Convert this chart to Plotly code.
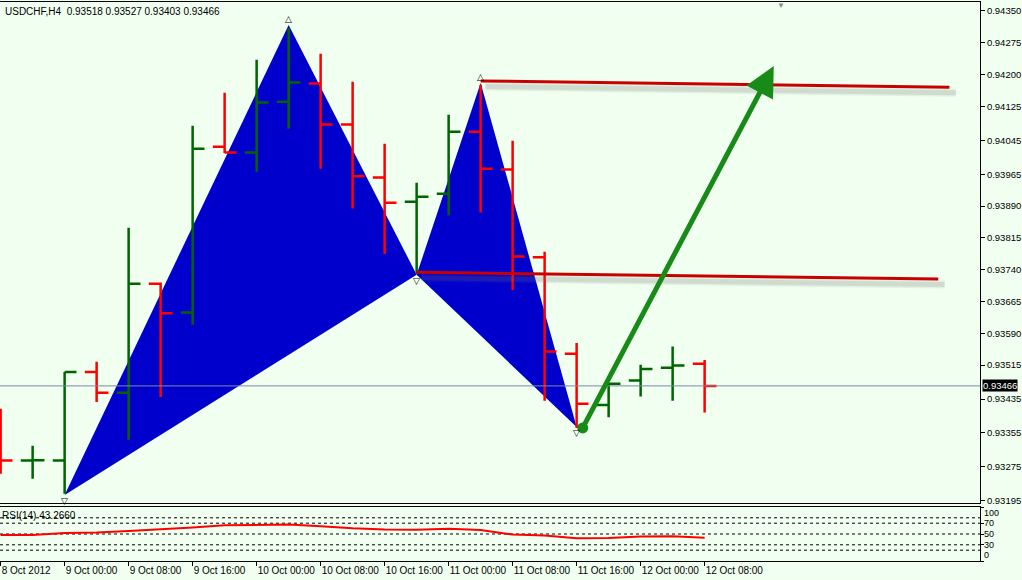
import plotly.graph_objects as go

symbol = "USDCHF,H4"
times = ["8 Oct 16:00", "8 Oct 20:00", "9 Oct 00:00", "9 Oct 04:00", "9 Oct 08:00",
         "9 Oct 12:00", "9 Oct 16:00", "9 Oct 20:00", "10 Oct 00:00", "10 Oct 04:00",
         "10 Oct 08:00", "10 Oct 12:00", "10 Oct 16:00", "10 Oct 20:00", "11 Oct 00:00",
         "11 Oct 04:00", "11 Oct 08:00", "11 Oct 12:00", "11 Oct 16:00", "11 Oct 20:00",
         "12 Oct 00:00", "12 Oct 04:00", "12 Oct 08:00"]
opens = [0.93339, 0.93290, 0.93290, 0.93499, 0.93450, 0.93707, 0.93639, 0.94030, 0.94016,
         0.94136, 0.94179, 0.94082, 0.93957, 0.93900, 0.93919, 0.94065, 0.93976, 0.93769,
         0.93542, 0.93421, 0.93479, 0.93509, 0.93518]
highs = [0.93412, 0.93325, 0.93499, 0.93523, 0.93839, 0.93710, 0.94079, 0.94157, 0.94235,
         0.94310, 0.94249, 0.94183, 0.94037, 0.93945, 0.94105, 0.94176, 0.94044, 0.93782,
         0.93567, 0.93472, 0.93516, 0.93559, 0.93527]
lows = [0.93259, 0.93247, 0.93212, 0.93428, 0.93339, 0.93440, 0.93610, 0.94015, 0.93971,
        0.94072, 0.93978, 0.93884, 0.93777, 0.93730, 0.93868, 0.93875, 0.93692, 0.93431,
        0.93367, 0.93392, 0.93441, 0.93431, 0.93403]
closes = [0.93290, 0.93291, 0.93499, 0.93450, 0.93707, 0.93637, 0.94025, 0.94016, 0.94134,
          0.94181, 0.94082, 0.93960, 0.93898, 0.93912, 0.94065, 0.93978, 0.93771, 0.93547,
          0.93424, 0.93471, 0.93506, 0.93514, 0.93466]
rsi = [48.2, 48.0, 52.0, 52.6, 55.5, 58.2, 62.0, 66.0, 66.5, 67.5, 64.5, 60.5, 58.2, 58.0,
       59.5, 57.5, 49.0, 47.0, 42.0, 42.5, 45.5, 45.8, 43.266]
rsi_levels = [80, 70, 50, 30, 20]

# XABCD pattern (bar index, price)
pat_idx = [2, 9, 13, 15, 18]
pat_price = [0.93209, 0.94317, 0.93728, 0.94180, 0.93369]

# trend lines (bar index, price)
line1_x = [15, 29.65]
line1_y = [0.94185, 0.94170]
line2_x = [13, 29.3]
line2_y = [0.93734, 0.93718]

# arrow (tail -> tip)
arrow_x = [18.19, 24.16]
arrow_y = [0.93367, 0.94220]

price_ticks = [0.94350, 0.94275, 0.94200, 0.94125, 0.94045, 0.93965, 0.93890, 0.93815,
               0.93740, 0.93665, 0.93590, 0.93515, 0.93435, 0.93355, 0.93275, 0.93195]
time_tick_idx = [0, 2, 4, 6, 8, 10, 12, 14, 16, 18, 20, 22]
time_tick_text = ["8 Oct 2012", "9 Oct 00:00", "9 Oct 08:00", "9 Oct 16:00", "10 Oct 00:00",
                  "10 Oct 08:00", "10 Oct 16:00", "11 Oct 00:00", "11 Oct 08:00",
                  "11 Oct 16:00", "12 Oct 00:00", "12 Oct 08:00"]
rsi_ticks = [100, 70, 50, 30, 0]

BG = "#f0fff0"
idx = list(range(len(times)))

fig = go.Figure()

# soft shadows of the trend lines
for lx, ly in ((line1_x, line1_y), (line2_x, line2_y)):
    for w, a in ((8, 0.10), (5, 0.16)):
        fig.add_trace(go.Scatter(
            x=[lx[0] + 0.15, lx[1] + 0.2], y=[ly[0] - 0.00013, ly[1] - 0.00013],
            mode="lines", line=dict(color=f"rgba(110,110,110,{a})", width=w),
            hoverinfo="skip", showlegend=False, xaxis="x", yaxis="y"))

# OHLC bars
fig.add_trace(go.Ohlc(
    x=idx, open=opens, high=highs, low=lows, close=closes,
    increasing=dict(line=dict(color="#006400", width=2.5)),
    decreasing=dict(line=dict(color="#ff0000", width=2.5)),
    tickwidth=0.37, showlegend=False, hoverinfo="skip",
    xaxis="x", yaxis="y"))

# trend lines
for lx, ly in ((line1_x, line1_y), (line2_x, line2_y)):
    fig.add_trace(go.Scatter(
        x=lx, y=ly, mode="lines", line=dict(color="#c80000", width=3),
        hoverinfo="skip", showlegend=False, xaxis="x", yaxis="y"))

# arrow start dot
fig.add_trace(go.Scatter(
    x=[arrow_x[0]], y=[arrow_y[0]], mode="markers",
    marker=dict(color="#178a17", size=11), hoverinfo="skip", showlegend=False,
    xaxis="x", yaxis="y"))

# RSI
fig.add_trace(go.Scatter(
    x=idx, y=rsi, mode="lines", line=dict(color="#ff0000", width=2),
    hoverinfo="skip", showlegend=False, xaxis="x2", yaxis="y2"))

shapes = []
# pattern triangles XAB and BCD, behind the bars
for tri in ([0, 1, 2], [2, 3, 4]):
    pts = [(pat_idx[i], pat_price[i]) for i in tri]
    path = "M " + " L ".join(f"{px},{pp}" for px, pp in pts) + " Z"
    shapes.append(dict(type="path", xref="x", yref="y", path=path,
                       fillcolor="#0000cd", line=dict(width=0), layer="below"))
for lv in rsi_levels:
    shapes.append(dict(type="line", xref="x2 domain", yref="y2", x0=0, x1=1, y0=lv, y1=lv,
                       line=dict(color="black", width=1, dash="3px,3px"), layer="below"))
# current price line
shapes.append(dict(type="line", xref="x domain", yref="y", x0=0, x1=1,
                   y0=closes[-1], y1=closes[-1],
                   line=dict(color="#7a8aa6", width=1), layer="above"))

annotations = [
    dict(xref="x domain", yref="y domain", x=0.003, y=0.997, xanchor="left", yanchor="top",
         showarrow=False,
         text=f"{symbol}  {opens[-1]:.5f} {highs[-1]:.5f} {lows[-1]:.5f} {closes[-1]:.5f}",
         font=dict(size=10, color="black")),
    dict(xref="x2 domain", yref="y2 domain", x=0.0, y=0.98, xanchor="left", yanchor="top",
         showarrow=False, text=f"RSI(14) {rsi[-1]:.4f}", font=dict(size=10, color="black")),
    dict(xref="x domain", yref="y", x=1, y=closes[-1], xanchor="left", yanchor="middle",
         xshift=2, showarrow=False, text=f"{closes[-1]:.5f}", bgcolor="black",
         font=dict(size=9.5, color="white"), borderpad=0),
    dict(xref="x", yref="y", x=arrow_x[1], y=arrow_y[1], ax=arrow_x[0], ay=arrow_y[0],
         axref="x", ayref="y", showarrow=True, arrowhead=2, arrowsize=1.2, arrowwidth=5,
         arrowcolor="#178a17", standoff=0, startstandoff=0, text=""),
    dict(xref="x domain", yref="y domain", x=0.797, y=1.0, xanchor="center", yanchor="top",
         yshift=3, showarrow=False, text="▼", font=dict(size=8, color="#8c8c8c")),
]
# RSI scale labels, kept inside the small panel like the terminal does
for lv in rsi_ticks:
    anchor = "top" if lv == max(rsi_ticks) else ("bottom" if lv == min(rsi_ticks) else "middle")
    annotations.append(dict(xref="x2 domain", yref="y2", x=1, y=lv, xanchor="left",
                            yanchor=anchor, xshift=3, showarrow=False, text=str(lv),
                            font=dict(size=9, color="black"), borderpad=0))
for i, (px, pp) in enumerate(zip(pat_idx, pat_price)):
    up = i in (1, 3)
    annotations.append(dict(xref="x", yref="y", x=px, y=pp,
                            yanchor="bottom" if up else "top", showarrow=False,
                            text="△" if up else "▽", borderpad=0,
                            font=dict(size=9, color="black", family="DejaVu Sans")))

fig.update_layout(
    width=1022, height=580,
    margin=dict(l=0, r=42, t=2, b=19, autoexpand=False),
    paper_bgcolor=BG, plot_bgcolor=BG,
    font=dict(family="Liberation Sans", size=10, color="black"),
    showlegend=False,
    shapes=shapes, annotations=annotations,
    xaxis=dict(domain=[0, 1], anchor="y", range=[-0.02, 30.605], showticklabels=False,
               showgrid=False, zeroline=False, showline=True, mirror=True, automargin=False,
               linecolor="black", linewidth=1, ticks="", rangeslider=dict(visible=False)),
    yaxis=dict(domain=[0.1038, 1], anchor="x", range=[0.93190, 0.94371], side="right",
               tickvals=price_ticks, tickformat=".5f", ticks="outside", ticklen=4,
               tickcolor="black", showgrid=False, zeroline=False, showline=True,
               mirror=True, linecolor="black", linewidth=1, automargin=False,
               tickfont=dict(size=9.5)),
    xaxis2=dict(domain=[0, 1], anchor="y2", matches="x", range=[-0.02, 30.605],
                tickvals=time_tick_idx, ticktext=time_tick_text, ticks="outside", ticklen=4,
                tickcolor="black", ticklabelposition="outside right", tickangle=0,
                showgrid=False, automargin=False,
                zeroline=False, showline=True, mirror=True, linecolor="black", linewidth=1),
    yaxis2=dict(domain=[0, 0.0966], anchor="x2", range=[0, 100], side="right",
                tickvals=rsi_ticks, showticklabels=False, ticks="outside", ticklen=3,
                tickcolor="black", showgrid=False, zeroline=False, showline=True,
                mirror=True, linecolor="black", linewidth=1, automargin=False),
)

fig.write_html(
    "out.html",
    config={"displayModeBar": False},
    post_script="document.body.style.margin='0';document.body.style.overflow='hidden';"
                "document.body.style.background='%s';" % BG,
)
